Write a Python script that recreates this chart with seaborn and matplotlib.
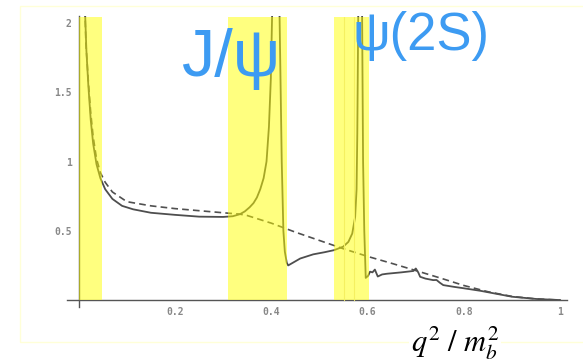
import numpy as np
import pandas as pd
import matplotlib
matplotlib.use("Agg")
import matplotlib.pyplot as plt
from matplotlib.patches import Rectangle
import seaborn as sns

# solid curve (with resonances)
solid_x = [0.013, 0.016, 0.02, 0.025, 0.03, 0.037, 0.045, 0.055, 0.07, 0.09, 0.113, 0.15,
           0.2, 0.25, 0.3, 0.32, 0.335, 0.345, 0.355, 0.363, 0.37, 0.377, 0.384, 0.39,
           0.395, 0.399, 0.403, 0.416, 0.4216, 0.425, 0.428, 0.432, 0.435, 0.445, 0.46,
           0.487, 0.51, 0.53, 0.549, 0.56, 0.568, 0.574, 0.577, 0.5785, 0.581, 0.588,
           0.5905, 0.593, 0.596, 0.601, 0.605, 0.61, 0.615, 0.621, 0.63, 0.64, 0.67,
           0.695, 0.70, 0.705, 0.709, 0.72, 0.736, 0.743, 0.75, 0.757, 0.78, 0.8, 0.834,
           0.86, 0.9, 0.95, 1.0]
solid_y = [2.1, 1.8, 1.55, 1.3, 1.13, 0.98, 0.88, 0.8, 0.73, 0.68, 0.655, 0.63,
           0.615, 0.602, 0.6, 0.605, 0.62, 0.64, 0.67, 0.70, 0.74, 0.8, 0.88, 1.0,
           1.25, 1.6, 2.3, 2.3, 1.0, 0.5, 0.35, 0.27, 0.25, 0.27, 0.30,
           0.33, 0.345, 0.36, 0.385, 0.42, 0.48, 0.6, 0.8, 1.2, 2.3, 2.3,
           1.0, 0.5, 0.16, 0.175, 0.205, 0.2, 0.22, 0.17, 0.185, 0.19, 0.2,
           0.21, 0.228, 0.2, 0.168, 0.155, 0.144, 0.145, 0.125, 0.108, 0.095, 0.085, 0.067,
           0.05, 0.024, 0.008, 0.0]

# dashed curve (no resonances)
dash_x = [0.012, 0.015, 0.02, 0.025, 0.03, 0.037, 0.045, 0.055, 0.07, 0.1, 0.15, 0.2,
          0.25, 0.3, 0.335, 0.35, 0.4, 0.45, 0.5, 0.55, 0.6, 0.65, 0.7, 0.75, 0.8,
          0.85, 0.9, 0.95, 1.0]
dash_y = [2.2, 1.85, 1.58, 1.35, 1.18, 1.02, 0.92, 0.85, 0.78, 0.71, 0.68, 0.66,
          0.645, 0.63, 0.62, 0.61, 0.555, 0.49, 0.43, 0.37, 0.315, 0.265, 0.213, 0.16, 0.105,
          0.06, 0.026, 0.008, 0.0]

# shaded q^2 windows
band_lo = [0.0, 0.311, 0.53]
band_hi = [0.049, 0.433, 0.603]
band_marks = [0.55, 0.572]

x_ticks = [0.2, 0.4, 0.6, 0.8, 1.0]
x_labels = ["0.2", "0.4", "0.6", "0.8", "1"]
y_ticks = [0.5, 1.0, 1.5, 2.0]
y_labels = ["0.5", "1", "1.5", "2"]

sns.set_style("white")
plt.rcParams["mathtext.fontset"] = "stix"

W, H = 583, 362
fig = plt.figure(figsize=(W / 100, H / 100), dpi=100)
ax = fig.add_axes([66.7 / W, 1 - 307 / H, 500 / W, 291 / H])
ax.set_xlim(-0.0249, 1.0133)
ax.set_ylim(-0.05, 2.05)

sol = pd.DataFrame({"x": solid_x, "y": solid_y})
dsh = pd.DataFrame({"x": dash_x, "y": dash_y})
sns.lineplot(data=sol, x="x", y="y", ax=ax, sort=False, estimator=None,
             color="#4e4e4e", lw=1.3, zorder=2)
sns.lineplot(data=dsh, x="x", y="y", ax=ax, sort=False, estimator=None,
             color="#505050", lw=1.2, zorder=2)
ax.lines[-1].set_dashes([4, 2.5])

for lo, hi in zip(band_lo, band_hi):
    ax.fill_between([lo, hi], 0, 2.045, color="#ffff00", alpha=0.5, lw=0, zorder=3)
for m in band_marks:
    ax.plot([m, m], [0, 2.045], color="#f5f060", lw=0.8, zorder=3)

for s in ["top", "right"]:
    ax.spines[s].set_visible(False)
ax.spines["left"].set_position(("data", 0))
ax.spines["bottom"].set_position(("data", 0))
for s in ["left", "bottom"]:
    ax.spines[s].set_color("#555555")
    ax.spines[s].set_linewidth(1.0)

ax.set_xticks(x_ticks)
ax.set_xticklabels(x_labels)
ax.set_yticks(y_ticks)
ax.set_yticklabels(y_labels)
ax.set_xticks(np.arange(0.05, 1.0, 0.05), minor=True)
ax.set_yticks(np.arange(0.1, 2.05, 0.1), minor=True)
ax.tick_params(which="major", direction="in", length=4, width=0.8, color="#555555",
               labelsize=7, labelcolor="#888888", pad=5)
ax.tick_params(which="minor", direction="in", length=2.5, width=0.6, color="#777777")
for t in ax.get_xticklabels() + ax.get_yticklabels():
    t.set_family("DejaVu Sans Mono")
    t.set_fontweight("bold")
ax.set_xlabel("")
ax.set_ylabel("")
ax.patch.set_alpha(0)

# faint frame of the original slide
fig.patches.append(Rectangle((20 / W, 1 - 342 / H), 600 / W, 336 / H,
                             transform=fig.transFigure, fill=False,
                             edgecolor="#ffffd8", lw=1.0, zorder=0))

blue = "#3d9bf2"
fig.text(181 / W, 1 - 76 / H, "J/ψ", color=blue, fontsize=48,
         family="Liberation Sans", va="baseline", ha="left")
fig.text(353 / W, 1 - 50 / H, "ψ(2S)", color=blue, fontsize=38,
         family="Liberation Sans", va="baseline", ha="left")
fig.text(455 / W, 1 - 352 / H, r"$q^2\ /\ m_b^2$", fontsize=22, ha="center",
         va="baseline", color="black",
         bbox=dict(facecolor="white", edgecolor="none", pad=1))

fig.savefig("out.png", dpi=100)
